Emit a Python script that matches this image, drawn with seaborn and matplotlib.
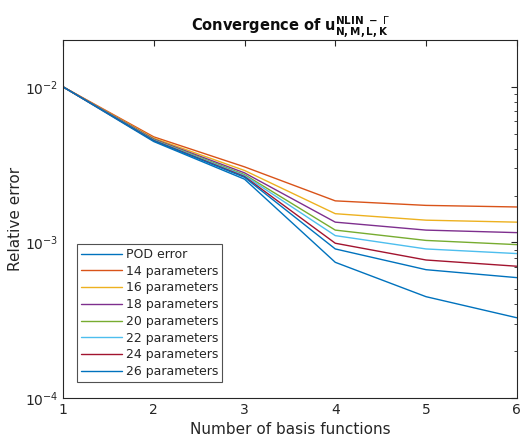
import numpy as np
import pandas as pd
import matplotlib
matplotlib.use('Agg')
import matplotlib.pyplot as plt
import seaborn as sns

# Dados
n_bases = [1, 2, 3, 4, 5, 6]
rotulos = ['POD error', '14 parameters', '16 parameters', '18 parameters',
           '20 parameters', '22 parameters', '24 parameters', '26 parameters']
erro_pod = [1.0e-2, 4.45e-3, 2.55e-3, 7.45e-4, 4.48e-4, 3.28e-4]
erro_14 = [1.0e-2, 4.77e-3, 3.06e-3, 1.85e-3, 1.73e-3, 1.69e-3]
erro_16 = [1.0e-2, 4.68e-3, 2.90e-3, 1.53e-3, 1.39e-3, 1.35e-3]
erro_18 = [1.0e-2, 4.62e-3, 2.80e-3, 1.35e-3, 1.20e-3, 1.156e-3]
erro_20 = [1.0e-2, 4.58e-3, 2.73e-3, 1.20e-3, 1.03e-3, 0.968e-3]
erro_22 = [1.0e-2, 4.55e-3, 2.69e-3, 1.106e-3, 0.908e-3, 0.848e-3]
erro_24 = [1.0e-2, 4.52e-3, 2.65e-3, 0.988e-3, 0.771e-3, 0.703e-3]
erro_26 = [1.0e-2, 4.50e-3, 2.62e-3, 0.908e-3, 0.668e-3, 0.594e-3]
series = [erro_pod, erro_14, erro_16, erro_18, erro_20, erro_22, erro_24, erro_26]

cores = ['#0072BD', '#D95319', '#EDB120', '#7E2F8E', '#77AC30', '#4DBEEE', '#A2142F', '#0072BD']

df = pd.DataFrame({
    'n': np.tile(n_bases, len(rotulos)),
    'erro': np.concatenate(series),
    'curva': np.repeat(rotulos, len(n_bases)),
})

sns.set_style('white')
plt.rcParams['font.family'] = ['DejaVu Sans']

fig = plt.figure(figsize=(5.22, 4.46), dpi=100)
ax = fig.add_axes([0.1207, 0.1076, 0.8693, 0.8027])
sns.lineplot(data=df, x='n', y='erro', hue='curva', hue_order=rotulos,
             palette=cores, linewidth=1.0, ax=ax)

ax.set_yscale('log')
ax.set_xlim(1, 6)
ax.set_ylim(1e-4, 2e-2)
ax.set_xticks(n_bases)
ax.set_yticks([1e-4, 1e-3, 1e-2])
ax.tick_params(which='both', direction='in', top=True, right=True,
               colors='0.15', labelsize=10)
ax.tick_params(which='major', length=4)
ax.tick_params(which='minor', length=2)
for lado in ax.spines.values():
    lado.set_color('0.15')
    lado.set_linewidth(0.8)
ax.set_xlabel('Number of basis functions', fontsize=11, color='0.15')
ax.set_ylabel('Relative error', fontsize=11, color='0.15', labelpad=1)
ax.set_title(r'Convergence of $\mathbf{u}^{\mathbf{NLIN\ -\ }\Gamma}_{\mathbf{N,M,L,K}}$',
             fontsize=10.5, fontweight='bold', color='0.05')

leg = ax.legend(loc='lower left', bbox_to_anchor=(0.031, 0.045), borderaxespad=0,
                fontsize=9, frameon=True, fancybox=False, edgecolor='0.15',
                handlelength=3.3, handletextpad=0.3, labelspacing=0.3, borderpad=0.3)
leg.get_frame().set_linewidth(0.8)

fig.savefig('out.png', dpi=100)
